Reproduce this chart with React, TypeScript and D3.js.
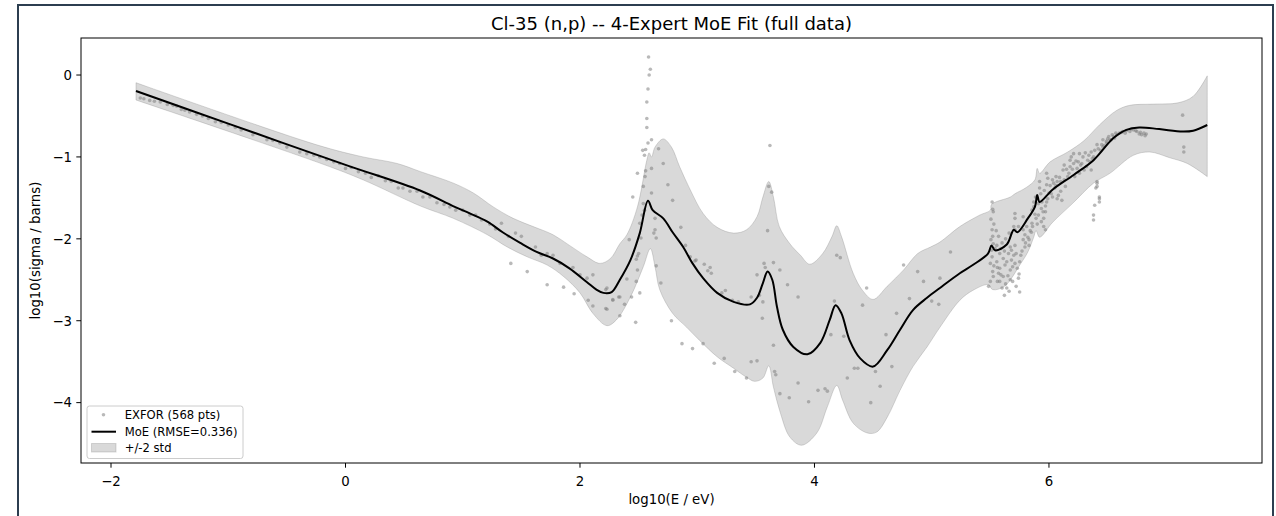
import React from "react";
import * as d3 from "d3";

// ---- data (log10 E [eV], log10 sigma [b]) ----
const titleText = "Cl-35 (n,p) -- 4-Expert MoE Fit (full data)";
const xTicks = [-2, 0, 2, 4, 6];
const yTicks = [0, -1, -2, -3, -4];

const meanCurve: [number, number][] = [
  [-1.787, -0.195], [-1.0, -0.593], [0, -1.097], [0.636, -1.41], [0.917, -1.6], [1.06, -1.69],
  [1.21, -1.79], [1.34, -1.92], [1.49, -2.05], [1.63, -2.16], [1.77, -2.24], [1.91, -2.36],
  [2.06, -2.53], [2.14, -2.62], [2.2, -2.66], [2.27, -2.65], [2.34, -2.5], [2.43, -2.26],
  [2.51, -1.93], [2.58, -1.535], [2.62, -1.65], [2.71, -1.75], [2.79, -1.92], [2.88, -2.1],
  [2.96, -2.3], [3.05, -2.48], [3.17, -2.66], [3.31, -2.77], [3.45, -2.8], [3.51, -2.72],
  [3.56, -2.54], [3.6, -2.4], [3.64, -2.5], [3.68, -2.83], [3.73, -3.11], [3.82, -3.32],
  [3.94, -3.41], [4.05, -3.27], [4.13, -2.99], [4.18, -2.81], [4.23, -2.91], [4.3, -3.24],
  [4.39, -3.46], [4.5, -3.56], [4.62, -3.36], [4.73, -3.11], [4.84, -2.87], [4.96, -2.72],
  [5.07, -2.6], [5.24, -2.42], [5.35, -2.32], [5.48, -2.18], [5.51, -2.08], [5.54, -2.14],
  [5.64, -2.07], [5.7, -1.89], [5.73, -1.92], [5.82, -1.75], [5.88, -1.61], [5.9, -1.465],
  [5.92, -1.55], [6.03, -1.4], [6.21, -1.22], [6.38, -1.04], [6.55, -0.77], [6.66, -0.67],
  [6.77, -0.64], [6.94, -0.66], [7.14, -0.69], [7.23, -0.68], [7.35, -0.61],
];

const upperBand: [number, number][] = [
  [-1.787, -0.094], [-0.24, -0.855], [0.15, -1.0], [0.44, -1.08], [0.64, -1.18], [0.92, -1.32],
  [1.09, -1.44], [1.26, -1.61], [1.43, -1.75], [1.6, -1.85], [1.77, -1.95], [1.91, -2.08],
  [2.06, -2.22], [2.17, -2.3], [2.26, -2.24], [2.34, -2.06], [2.4, -1.95], [2.49, -1.61],
  [2.57, -1.04], [2.59, -0.95], [2.61, -1.0], [2.64, -0.88], [2.71, -0.78], [2.78, -0.88],
  [2.85, -1.12], [2.94, -1.4], [3.05, -1.69], [3.17, -1.86], [3.31, -1.93], [3.42, -1.89],
  [3.51, -1.73], [3.56, -1.49], [3.61, -1.3], [3.65, -1.49], [3.7, -1.85], [3.79, -2.06],
  [3.88, -2.2], [3.96, -2.31], [4.07, -2.18], [4.15, -1.97], [4.19, -1.84], [4.23, -1.97],
  [4.33, -2.42], [4.41, -2.63], [4.5, -2.74], [4.62, -2.58], [4.76, -2.38], [4.88, -2.18],
  [4.99, -2.1], [5.07, -2.04], [5.24, -1.85], [5.41, -1.71], [5.5, -1.65], [5.51, -1.58],
  [5.67, -1.49], [5.71, -1.45], [5.81, -1.37], [5.88, -1.28], [5.9, -1.14], [5.92, -1.2],
  [6.01, -1.06], [6.16, -0.94], [6.3, -0.8], [6.43, -0.61], [6.58, -0.43], [6.69, -0.37],
  [6.89, -0.355], [7.1, -0.34], [7.23, -0.26], [7.35, -0.01],
];

const lowerBand: [number, number][] = [
  [-1.787, -0.305], [-0.19, -1.09], [0.15, -1.28], [0.64, -1.6], [0.92, -1.75], [1.21, -1.95],
  [1.38, -2.1], [1.55, -2.22], [1.72, -2.32], [1.86, -2.46], [2.0, -2.66], [2.11, -2.91],
  [2.23, -3.06], [2.31, -2.99], [2.43, -2.71], [2.54, -2.34], [2.6, -2.12], [2.64, -2.34],
  [2.68, -2.62], [2.79, -2.91], [2.91, -3.08], [3.02, -3.24], [3.17, -3.44], [3.31, -3.58],
  [3.42, -3.69], [3.49, -3.74], [3.56, -3.7], [3.61, -3.55], [3.65, -3.81], [3.71, -4.13],
  [3.79, -4.42], [3.89, -4.52], [4.02, -4.37], [4.11, -4.05], [4.19, -3.79], [4.24, -3.97],
  [4.33, -4.25], [4.45, -4.37], [4.53, -4.36], [4.62, -4.18], [4.73, -3.85], [4.84, -3.56],
  [4.96, -3.32], [5.07, -3.08], [5.24, -2.75], [5.35, -2.63], [5.48, -2.56], [5.52, -2.62],
  [5.62, -2.58], [5.76, -2.3], [5.82, -2.16], [5.87, -1.98], [5.89, -1.9], [5.92, -1.98],
  [6.03, -1.8], [6.2, -1.57], [6.38, -1.32], [6.52, -1.2], [6.72, -0.98], [6.86, -0.94],
  [7.03, -1.01], [7.18, -1.08], [7.35, -1.24],
];

const exforPoints: [number, number][] = [
  [-1.75, -0.28], [-1.72, -0.29], [-1.67, -0.31], [-1.63, -0.32], [-1.58, -0.33], [-1.52, -0.36],
  [-1.47, -0.37], [-1.44, -0.38], [-1.4, -0.42], [-1.37, -0.43], [-1.33, -0.45], [-1.27, -0.48],
  [-1.22, -0.5], [-1.17, -0.53], [-1.11, -0.57], [-1.06, -0.58], [-1.0, -0.61], [-0.94, -0.64],
  [-0.89, -0.67], [-0.79, -0.73], [-0.67, -0.79], [-0.62, -0.8], [-0.56, -0.83], [-0.5, -0.88],
  [-0.39, -0.94], [-0.33, -0.96], [-0.27, -0.98], [-0.22, -1.0], [-0.16, -1.03], [-0.1, -1.06],
  [-0.05, -1.08], [0.0, -1.14], [0.05, -1.13], [0.11, -1.18], [0.17, -1.2], [0.22, -1.25],
  [0.28, -1.23], [0.34, -1.29], [0.39, -1.3], [0.45, -1.38], [0.49, -1.38], [0.55, -1.42],
  [0.61, -1.42], [0.66, -1.49],
  [0.72, -1.49], [0.78, -1.56], [0.84, -1.58], [0.89, -1.61], [0.94, -1.65], [1.0, -1.65],
  [1.06, -1.71], [1.11, -1.71], [1.16, -1.77], [1.23, -1.82], [1.28, -1.88], [1.33, -1.81],
  [1.39, -1.97], [1.45, -1.93], [1.5, -1.97], [1.41, -2.3], [1.55, -2.4], [1.62, -2.1],
  [1.67, -2.2], [1.72, -2.18], [1.77, -2.2], [1.72, -2.56], [1.83, -2.3], [1.86, -2.59],
  [1.94, -2.35], [1.95, -2.67], [2.0, -2.44], [2.06, -2.48], [2.11, -2.44], [2.07, -2.75],
  [2.11, -2.82], [2.22, -2.62], [2.23, -2.86], [2.28, -2.75], [2.34, -2.71],
  [2.585, 0.22], [2.6, 0.07], [2.59, 0.0], [2.58, -0.17], [2.57, -0.33], [2.57, -0.53],
  [2.57, -0.64], [2.58, -0.83], [2.61, -0.79], [2.535, -0.92], [2.56, -0.91], [2.55, -0.98],
  [2.67, -0.9], [2.71, -1.08], [2.61, -1.14], [2.56, -1.17], [2.49, -1.2], [2.555, -1.24],
  [2.54, -1.36], [2.75, -1.34], [2.45, -1.49], [2.61, -1.44], [2.79, -1.53], [2.54, -1.57],
  [2.55, -1.65], [2.53, -1.71], [2.64, -1.75], [2.51, -1.81], [2.64, -1.89], [2.86, -1.86],
  [2.63, -1.93], [2.65, -1.99], [2.52, -1.99], [2.42, -2.01], [2.9, -2.08], [2.5, -2.18],
  [2.49, -2.21], [2.48, -2.25], [2.94, -2.22], [2.98, -2.27], [2.99, -2.26], [2.65, -2.33],
  [3.06, -2.31], [3.11, -2.35], [3.09, -2.39], [3.12, -2.42], [2.49, -2.38], [2.4, -2.49],
  [2.48, -2.52], [2.69, -2.54], [2.23, -2.6], [2.51, -2.66], [2.44, -2.71], [2.28, -2.74],
  [2.33, -2.71], [2.38, -2.8], [2.22, -2.85], [2.34, -2.94], [2.475, -3.02], [2.78, -3.0],
  [2.87, -3.28], [2.96, -3.34], [3.05, -3.28], [3.145, -3.52], [3.23, -3.46], [3.32, -3.62],
  [3.42, -3.7], [3.21, -2.66], [3.24, -2.63], [3.3, -2.75], [3.35, -2.77], [3.46, -2.71],
  [3.51, -3.49], [3.51, -2.44], [3.555, -2.97], [3.56, -2.77], [3.57, -2.3], [3.58, -2.35],
  [3.6, -1.9], [3.62, -0.86], [3.61, -1.36], [3.635, -1.43], [3.65, -2.29], [3.705, -2.38],
  [3.77, -2.56], [3.65, -3.3], [3.66, -3.62], [3.67, -3.66], [3.705, -3.89], [3.785, -3.94],
  [3.86, -2.71], [3.86, -3.76], [3.46, -3.5], [3.53, -2.69],
  [3.95, -3.99], [4.03, -3.85], [4.09, -3.83], [4.11, -3.86], [4.14, -3.17], [4.17, -2.76],
  [4.19, -2.2], [4.22, -2.23], [4.25, -3.19], [4.28, -3.7], [4.34, -3.58], [4.37, -3.58],
  [4.41, -2.81], [4.445, -2.6], [4.48, -4.0], [4.52, -3.62], [4.56, -3.8], [4.61, -3.17],
  [4.66, -3.56], [4.7, -2.91], [4.76, -2.32], [4.81, -2.73], [4.93, -2.52], [5.0, -2.76],
  [5.07, -2.48], [5.16, -2.16], [5.06, -2.8], [4.88, -2.4],
  [5.515, -1.55], [5.52, -1.64], [5.525, -1.67], [5.505, -1.76], [5.515, -1.89], [5.52, -1.97],
  [5.505, -2.01], [5.525, -2.06], [5.57, -1.97], [5.555, -2.08], [5.58, -2.18], [5.515, -2.22],
  [5.555, -2.28], [5.61, -2.24], [5.5, -2.3], [5.58, -2.36], [5.625, -2.32], [5.57, -2.42],
  [5.525, -2.46], [5.61, -2.46], [5.5, -2.52], [5.58, -2.52], [5.485, -2.58], [5.6, -2.6],
  [5.64, -2.6], [5.75, -2.65], [5.74, -2.48], [5.745, -2.43], [5.67, -2.38], [5.71, -2.3],
  [5.68, -2.26], [5.75, -2.28], [5.655, -2.18], [5.68, -2.14], [5.72, -2.18], [5.76, -2.2],
  [5.67, -2.1], [5.71, -2.08], [5.795, -2.1], [5.83, -2.08], [5.78, -2.01], [5.83, -2.01],
  [5.795, -1.95], [5.78, -1.89], [5.81, -1.85], [5.71, -1.75], [5.71, -1.69], [5.78, -1.73],
  [5.7, -1.85], [5.74, -1.85], [5.71, -1.89], [5.855, -1.81], [5.87, -1.55], [5.87, -1.61],
  [5.855, -1.65], [5.885, -1.49], [5.91, -1.57], [5.92, -1.3], [5.92, -1.38], [5.91, -1.71],
  [5.95, -1.67], [5.935, -1.63], [5.97, -1.67], [5.955, -1.75], [5.935, -1.79], [5.955, -1.85],
  [5.97, -1.89], [5.98, -1.55], [5.99, -1.51], [5.98, -1.2], [5.99, -1.26], [5.98, -1.34],
  [6.03, -1.28], [6.06, -1.24], [6.04, -1.32], [6.07, -1.3], [6.03, -1.49], [6.07, -1.51],
  [6.08, -1.47], [6.11, -1.53], [6.1, -1.42], [6.14, -1.36], [6.12, -1.16], [6.17, -1.2],
  [6.18, -1.12], [6.21, -1.08], [6.22, -1.24], [6.26, -1.2], [6.25, -1.06], [6.19, -1.0],
  [6.29, -1.0], [6.32, -1.12], [6.35, -1.06], [6.36, -1.16], [6.38, -1.0], [6.41, -1.3],
  [6.41, -1.36], [6.43, -1.51], [6.43, -1.55], [6.39, -1.59], [6.38, -1.71], [6.38, -1.77],
  [6.44, -0.92], [6.46, -0.88], [6.49, -0.83], [6.52, -0.79], [6.55, -0.75],
  [5.54, -2.12], [5.6, -2.05], [5.63, -2.0], [5.66, -1.93], [5.56, -2.35], [5.52, -2.4],
  [5.65, -2.45], [5.69, -2.52], [5.62, -2.69], [5.66, -2.64], [5.72, -2.58], [5.7, -2.2],
  [5.85, -1.92], [5.88, -1.7], [5.9, -1.82], [5.93, -1.45], [5.96, -1.41], [6.0, -1.44],
  [6.05, -1.38], [6.09, -1.25], [6.13, -1.28], [6.15, -1.15], [6.24, -1.14], [6.28, -1.08],
  [6.18, -1.04], [6.21, -0.96], [6.26, -0.96], [6.3, -1.16], [6.34, -0.98], [6.36, -0.94],
  [6.39, -0.92], [6.41, -0.85], [6.42, -0.9], [6.45, -0.85], [6.46, -0.79], [6.49, -0.81],
  [6.51, -0.75], [6.53, -0.79], [6.56, -0.77], [6.58, -0.73], [6.6, -0.71], [6.63, -0.69],
  [6.66, -0.68], [6.69, -0.69], [6.72, -0.67], [6.75, -0.69], [6.78, -0.7], [6.81, -0.71],
  [6.83, -0.72], [6.79, -0.73], [6.82, -0.74], [7.14, -0.49], [7.15, -0.88], [7.15, -0.94],
  [6.41, -1.32], [6.4, -1.38], [6.43, -1.49],
  [5.53, -1.82], [5.55, -1.9], [5.59, -2.12], [5.62, -2.15], [5.64, -2.28], [5.69, -2.34],
  [5.73, -2.36], [5.77, -2.15], [5.8, -2.05], [5.82, -1.98], [5.84, -1.9], [5.86, -1.85],
  [5.89, -1.75], [5.94, -1.55], [5.97, -1.6], [6.01, -1.35], [6.02, -1.45], [6.06, -1.35],
  [6.1, -1.3], [6.13, -1.1], [6.16, -1.24], [6.2, -1.15], [6.23, -1.05], [6.27, -1.1],
  [6.31, -0.95], [6.33, -1.04], [6.37, -1.02], [6.47, -0.86], [6.5, -0.78], [6.54, -0.73],
  [6.57, -0.71], [6.62, -0.7], [6.65, -0.71], [6.7, -0.66], [6.74, -0.68], [6.77, -0.72],
  [5.51, -2.14], [5.53, -2.33], [5.56, -2.52], [5.59, -2.44], [5.63, -2.55], [5.67, -2.5],
];

const legendLabels = ["EXFOR (568 pts)", "MoE (RMSE=0.336)", "+/-2 std"];
const xLabel = "log10(E / eV)";
const yLabel = "log10(sigma / barns)";

const W = 1276;
const H = 516;
const M = { left: 81, top: 38, right: 1262, bottom: 463 };
const FONT = "'DejaVu Sans', sans-serif";

export default function App() {
  const x = d3.scaleLinear().domain([-2.256, 7.817]).range([M.left, M.right]);
  const y = d3.scaleLinear().domain([0.452, -4.737]).range([M.top, M.bottom]);

  const lineGen = d3
    .line<[number, number]>()
    .x((d) => x(d[0]))
    .y((d) => y(d[1]))
    .curve(d3.curveCatmullRom.alpha(0.5));

  const bandPath =
    (lineGen(upperBand) as string) +
    (lineGen([...lowerBand].reverse()) as string).replace(/^M/, "L") +
    "Z";
  const meanPath = lineGen(meanCurve) as string;
  const fmt = (v: number) => (v < 0 ? "\u2212" + Math.abs(v) : String(v));
  const tickLen = 4.7;

  return (
    <svg
      width={W}
      height={H}
      style={{ position: "absolute", left: 0, top: 0, background: "#fff" }}
      fontFamily={FONT}
    >
      <rect x={0} y={0} width={W} height={H} fill="#fff" />
      <rect x={18} y={5} width={1255} height={H + 20} fill="none" stroke="#2c3e50" strokeWidth={2} />
      <defs>
        <clipPath id="plotclip">
          <rect x={M.left} y={M.top} width={M.right - M.left} height={M.bottom - M.top} />
        </clipPath>
      </defs>
      <g clipPath="url(#plotclip)">
        <path d={bandPath} fill="#808080" fillOpacity={0.3} stroke="#808080" strokeOpacity={0.3} strokeWidth={1} />
        {exforPoints.map((p, i) => (
          <circle key={i} cx={x(p[0])} cy={y(p[1])} r={1.8} fill="#808080" fillOpacity={0.55} />
        ))}
        <path d={meanPath} fill="none" stroke="#000" strokeWidth={2} strokeLinejoin="round" />
      </g>
      <rect
        x={M.left}
        y={M.top}
        width={M.right - M.left}
        height={M.bottom - M.top}
        fill="none"
        stroke="#000"
        strokeWidth={1}
      />
      {xTicks.map((t) => (
        <g key={"x" + t}>
          <line x1={x(t)} x2={x(t)} y1={M.bottom} y2={M.bottom + tickLen} stroke="#000" strokeWidth={1} />
          <text x={x(t)} y={M.bottom + 23} textAnchor="middle" fontSize={13.3} fill="#000">
            {fmt(t)}
          </text>
        </g>
      ))}
      {yTicks.map((t) => (
        <g key={"y" + t}>
          <line x1={M.left - tickLen} x2={M.left} y1={y(t)} y2={y(t)} stroke="#000" strokeWidth={1} />
          <text x={M.left - 9} y={y(t) + 4.8} textAnchor="end" fontSize={13.3} fill="#000">
            {fmt(t)}
          </text>
        </g>
      ))}
      <text x={(M.left + M.right) / 2} y={504} textAnchor="middle" fontSize={13.3} fill="#000">
        {xLabel}
      </text>
      <text
        transform={`translate(40,${(M.top + M.bottom) / 2}) rotate(-90)`}
        textAnchor="middle"
        fontSize={13.3}
        fill="#000"
      >
        {yLabel}
      </text>
      <text x={(M.left + M.right) / 2} y={30} textAnchor="middle" fontSize={18} fill="#000">
        {titleText}
      </text>
      <g>
        <rect x={87} y={406} width={156} height={52.5} rx={2.5} fill="#fff" fillOpacity={0.8} stroke="#cccccc" strokeWidth={1} />
        <circle cx={103.5} cy={414.8} r={1.8} fill="#808080" fillOpacity={0.55} />
        <line x1={91.5} x2={116} y1={431.7} y2={431.7} stroke="#000" strokeWidth={2} />
        <rect x={91.5} y={443.5} width={24.5} height={8.5} fill="#808080" fillOpacity={0.3} stroke="#808080" strokeOpacity={0.3} strokeWidth={1} />
        {legendLabels.map((l, i) => (
          <text key={l} x={124.7} y={419 + i * 16.5} fontSize={11.6} fill="#000">
            {l}
          </text>
        ))}
      </g>
    </svg>
  );
}
